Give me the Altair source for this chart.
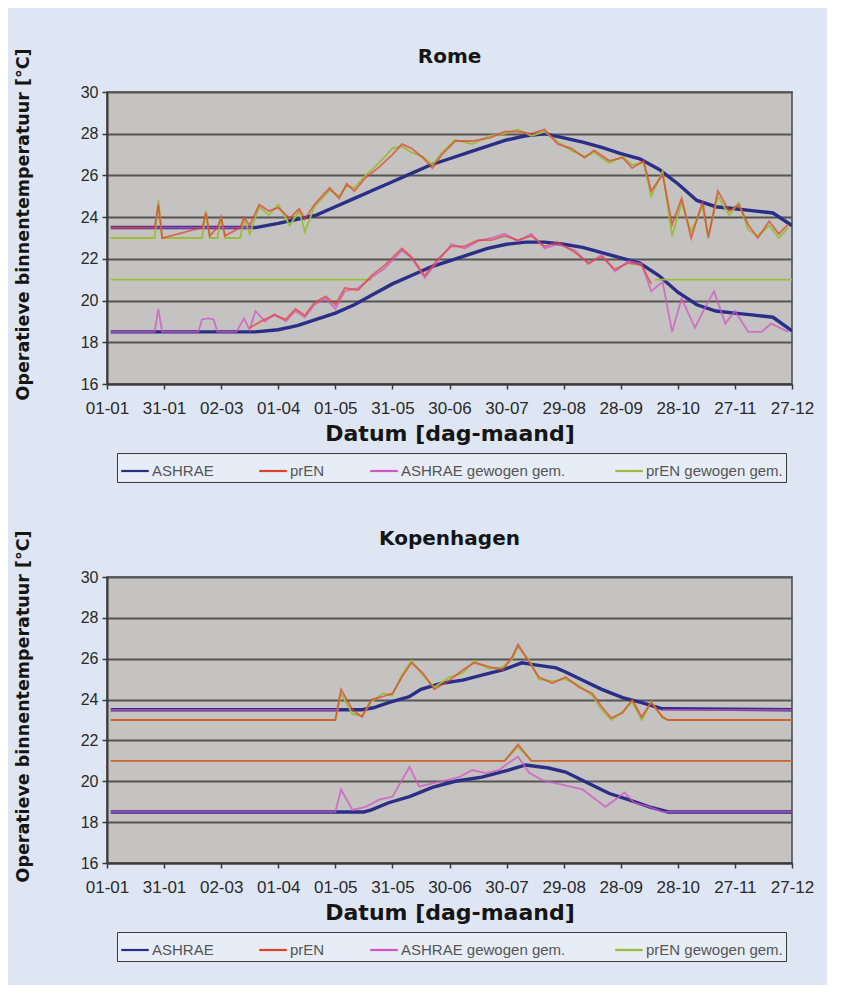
import json
import altair as alt
import pandas as pd

# ---------------- axis / legend text ----------------
x_tick_days = [0, 30, 60, 90, 120, 150, 180, 210, 240, 270, 300, 330, 360]
x_tick_labels = ["01-01", "31-01", "02-03", "01-04", "01-05", "31-05", "30-06",
                 "30-07", "29-08", "28-09", "28-10", "27-11", "27-12"]
y_ticks = [16, 18, 20, 22, 24, 26, 28, 30]
series_names = ["ASHRAE", "prEN", "ASHRAE  gewogen gem.", "prEN gewogen gem."]
series_colors = ["#2b2e86", "#e3402b", "#d453c6", "#9cbd3c"]

# ---------------- Rome ----------------
rome_ashrae_days = [2, 78, 90, 100, 110, 120, 130, 140, 150, 160, 170, 180, 190, 200, 210,
                    220, 230, 240, 250, 260, 270, 280, 290, 300, 310, 320, 330, 340, 350, 360]
rome_ashrae_upper = [23.5, 23.5, 23.7, 23.9, 24.1, 24.5, 24.9, 25.3, 25.7, 26.1, 26.5, 26.8, 27.1, 27.4, 27.7,
                     27.9, 28.0, 27.8, 27.6, 27.35, 27.05, 26.8, 26.3, 25.6, 24.8, 24.5, 24.4, 24.3, 24.2, 23.6]
rome_ashrae_lower = [18.5, 18.5, 18.6, 18.8, 19.1, 19.4, 19.8, 20.3, 20.8, 21.2, 21.6, 21.9, 22.2, 22.5, 22.7,
                     22.8, 22.8, 22.7, 22.55, 22.3, 22.05, 21.8, 21.2, 20.4, 19.8, 19.5, 19.4, 19.3, 19.2, 18.55]

rome_upper_days = [2, 25, 27, 29, 50, 52, 54, 58, 60, 62, 70, 72, 75, 80, 85, 90, 96, 101, 104, 109,
                   117, 122, 126, 130, 136, 143, 150, 155, 160, 166, 171, 176, 183, 192, 201, 209,
                   216, 223, 230, 237, 244, 251, 256, 264, 271, 276, 282, 286, 292, 297, 302, 307,
                   313, 316, 321, 327, 332, 337, 342, 348, 353, 358]
rome_pren_upper = [23.5, 23.5, 24.6, 23.0, 23.5, 24.2, 23.1, 23.5, 24.0, 23.1, 23.5, 24.0, 23.6, 24.6, 24.3,
                   24.45, 23.95, 24.4, 23.9, 24.6, 25.4, 24.9, 25.6, 25.25, 25.9, 26.4, 27.0, 27.5, 27.3,
                   26.85, 26.35, 27.0, 27.65, 27.65, 27.8, 28.1, 28.1, 28.0, 28.2, 27.5, 27.3, 26.85, 27.2,
                   26.7, 26.85, 26.35, 26.7, 25.25, 26.05, 23.65, 24.9, 23.0, 24.75, 23.0, 25.25, 24.3,
                   24.6, 23.65, 23.0, 23.8, 23.2, 23.65]
rome_pren_w_upper = [23.0, 23.0, 24.8, 23.0, 23.0, 24.3, 23.0, 23.0, 24.0, 23.0, 23.0, 23.9, 23.2, 24.5, 24.1,
                     24.6, 23.6, 24.3, 23.3, 24.5, 25.3, 25.0, 25.5, 25.4, 26.0, 26.6, 27.3, 27.4, 27.1,
                     26.9, 26.5, 27.1, 27.7, 27.5, 27.9, 28.0, 28.2, 27.9, 28.1, 27.6, 27.2, 26.9, 27.1,
                     26.6, 26.9, 26.5, 26.6, 25.0, 26.2, 23.1, 24.7, 23.3, 24.5, 23.1, 25.0, 24.1,
                     24.7, 23.4, 23.1, 23.6, 23.0, 23.5]
rome_ashrae_w_upper_days = [2, 76]
rome_ashrae_w_upper = [23.5, 23.5]

rome_lower_days = [2, 25, 27, 29, 48, 50, 53, 56, 58, 68, 72, 75, 78, 83, 88, 94, 99, 104, 109, 115,
                   120, 125, 132, 139, 146, 155, 160, 167, 174, 181, 188, 195, 202, 209, 216, 223,
                   230, 237, 246, 253, 260, 267, 274, 281, 286, 292, 297, 302, 309, 314, 319, 325,
                   330, 337, 344, 349, 358]
rome_ashrae_w_lower = [18.5, 18.5, 19.6, 18.5, 18.5, 19.1, 19.15, 19.1, 18.5, 18.5, 19.15, 18.6, 19.5, 19.0,
                       19.35, 19.0, 19.5, 19.2, 19.8, 20.1, 19.6, 20.45, 20.6, 21.1, 21.55, 22.4, 22.05,
                       21.1, 21.9, 22.7, 22.5, 22.85, 23.0, 23.2, 22.85, 23.2, 22.5, 22.7, 22.4, 21.75,
                       22.2, 21.4, 21.9, 21.75, 20.45, 20.9, 18.5, 20.1, 18.7, 19.6, 20.45, 18.9, 19.5,
                       18.5, 18.5, 18.9, 18.5]
rome_pren_lower_days = [75, 83, 88, 94, 99, 104, 109, 115, 120, 125, 132, 139, 146, 155, 160, 167, 174,
                        181, 188, 195, 202, 209, 216, 223, 230, 237, 246, 253, 260, 267, 274, 281, 286]
rome_pren_lower = [18.7, 19.1, 19.3, 19.1, 19.6, 19.3, 19.9, 20.2, 19.8, 20.6, 20.5, 21.2, 21.7, 22.5, 22.1,
                   21.2, 22.0, 22.6, 22.6, 22.9, 22.9, 23.1, 22.9, 23.1, 22.6, 22.8, 22.3, 21.8, 22.1,
                   21.5, 21.8, 21.7, 20.8]
rome_pren_w_lower_days = [2, 139, 140, 288, 360]
rome_pren_w_lower = [21.0, 21.0, None, 21.0, 21.0]

# ---------------- Kopenhagen ----------------
kop_ashrae_upper_days = [2, 134, 140, 148, 159, 165, 176, 187, 197, 208, 218, 225, 236, 241, 250,
                         260, 271, 281, 292, 360]
kop_ashrae_upper = [23.5, 23.5, 23.6, 23.85, 24.15, 24.5, 24.8, 24.95, 25.2, 25.45, 25.8, 25.7, 25.55,
                    25.35, 24.95, 24.5, 24.1, 23.85, 23.55, 23.5]
kop_ashrae_lower_days = [2, 135, 139, 148, 159, 171, 183, 197, 211, 220, 232, 241, 253, 264, 274,
                         285, 295, 360]
kop_ashrae_lower = [18.5, 18.5, 18.6, 18.95, 19.25, 19.7, 20.0, 20.2, 20.55, 20.8, 20.65, 20.45, 19.9,
                    19.4, 19.1, 18.75, 18.5, 18.5]

kop_upper_days = [2, 120, 123, 129, 134, 139, 145, 150, 155, 160, 166, 172, 180, 187, 193, 201, 208,
                  213, 216, 222, 227, 234, 241, 248, 255, 260, 265, 271, 276, 281, 286, 292, 295, 360]
kop_pren_upper = [23.0, 23.0, 24.5, 23.5, 23.15, 24.0, 24.15, 24.3, 25.1, 25.8, 25.3, 24.5, 24.95, 25.45,
                  25.8, 25.6, 25.45, 26.1, 26.7, 25.8, 25.1, 24.8, 25.1, 24.6, 24.3, 23.65, 23.1, 23.35,
                  24.0, 23.15, 23.85, 23.15, 23.0, 23.0]
kop_pren_w_upper = [23.0, 23.0, 24.3, 23.3, 23.2, 23.9, 24.3, 24.2, 25.2, 25.9, 25.2, 24.6, 25.1, 25.3,
                    25.9, 25.5, 25.6, 26.0, 26.6, 25.9, 25.0, 24.9, 25.0, 24.7, 24.2, 23.5, 23.0, 23.4,
                    23.9, 23.0, 23.9, 23.1, 23.0, 23.0]
kop_ashrae_w_upper_days = [2, 122, 123, 292, 360]
kop_ashrae_w_upper = [23.5, 23.5, None, 23.5, 23.5]

kop_lower_days = [2, 120, 123, 129, 136, 143, 150, 159, 164, 171, 178, 185, 192, 199, 206, 211, 216,
                  222, 229, 236, 243, 250, 257, 262, 267, 272, 277, 285, 292, 360]
kop_ashrae_w_lower = [18.5, 18.5, 19.6, 18.6, 18.75, 19.1, 19.25, 20.7, 19.75, 19.9, 20.05, 20.2, 20.55,
                      20.4, 20.55, 20.9, 21.2, 20.4, 20.05, 19.9, 19.75, 19.6, 19.1, 18.75, 19.1, 19.45,
                      18.95, 18.75, 18.5, 18.5]
kop_pren_lower_days = [2, 209, 216, 223, 360]
kop_pren_lower = [21.0, 21.0, 21.8, 21.0, 21.0]
kop_pren_w_lower = [21.0, 21.0, 21.7, 21.0, 21.0]

# ---------------- styling ----------------
BG = "#dde6f2"
TITLE_FONT = "DejaVu Sans"
LABEL_FONT = "Liberation Sans"
draw_order = ["ASHRAE", "prEN gewogen gem.", "ASHRAE  gewogen gem.", "prEN"]
line_style = {  # name: (strokeWidth, opacity)
    "ASHRAE": (3.4, 1.0),
    "prEN gewogen gem.": (1.8, 1.0),
    "ASHRAE  gewogen gem.": (1.8, 0.75),
    "prEN": (1.8, 0.7),
}
label_expr = json.dumps(x_tick_labels) + "[round(datum.value / 30)]"


def make_panel(title, parts, plot_w, plot_h):
    rows = []
    for name, part, days, vals in parts:
        seg = 0
        for d, v in zip(days, vals):
            if v is None:
                seg += 1
                continue
            rows.append({"day": d, "temp": v, "series": name, "line": f"{part}-{seg}"})
    df = pd.DataFrame(rows)

    x = alt.X("day:Q",
              scale=alt.Scale(domain=[0, 360], nice=False, zero=False),
              axis=alt.Axis(values=x_tick_days, labelExpr=label_expr, grid=False, labelFlush=False,
                            labelOverlap=False,
                            title="Datum [dag-maand]", titleFont=TITLE_FONT, titleFontSize=22,
                            titleFontWeight="bold", titleColor="#151515", titlePadding=7,
                            labelFont=LABEL_FONT, labelFontSize=17, labelColor="#2a2a2a",
                            labelPadding=11, tickSize=5, tickColor="#3a3a3a", tickWidth=1.5,
                            domainColor="#3a3a3a", domainWidth=2))
    y = alt.Y("temp:Q",
              scale=alt.Scale(domain=[16, 30], nice=False, zero=False),
              axis=alt.Axis(values=y_ticks, grid=True, gridColor="#555555", gridWidth=2,
                            title="Operatieve binnentemperatuur [°C]", titleFont=TITLE_FONT,
                            titleFontSize=17.5, titleFontWeight="bold", titleColor="#151515",
                            titlePadding=48, titleY=plot_h / 2 - 14,
                            labelFont=LABEL_FONT, labelFontSize=16,
                            labelColor="#2a2a2a", labelPadding=4, tickSize=5, tickColor="#3a3a3a",
                            tickWidth=1.5, domainColor="#3a3a3a", domainWidth=2))
    color = alt.Color("series:N",
                      scale=alt.Scale(domain=series_names, range=series_colors),
                      legend=alt.Legend(orient="none", legendX=10, legendY=plot_h + 69,
                                        direction="horizontal", title=None,
                                        symbolType="stroke", symbolSize=760,
                                        symbolStrokeWidth=2.2, labelFont=LABEL_FONT,
                                        labelFontSize=15, labelColor="#555555", labelOffset=2,
                                        labelLimit=400, columnPadding=40, padding=3,
                                        strokeColor="#3a3a3a", fillColor="#e6edf6"))
    layers = []
    for name in draw_order:
        w, op = line_style[name]
        layers.append(
            alt.Chart(df)
            .transform_filter(alt.datum.series == name)
            .mark_line(strokeWidth=w, opacity=op, clip=True)
            .encode(x=x, y=y, color=color, detail="line:N")
        )
    return alt.layer(*layers).properties(
        width=plot_w, height=plot_h,
        title=alt.TitleParams(title, font=TITLE_FONT, fontSize=20, fontWeight="bold",
                              color="#151515", anchor="middle", offset=-19),
    )


rome = make_panel("Rome", [
    ("ASHRAE", "up", rome_ashrae_days, rome_ashrae_upper),
    ("ASHRAE", "low", rome_ashrae_days, rome_ashrae_lower),
    ("prEN", "up", rome_upper_days, rome_pren_upper),
    ("prEN", "low", rome_pren_lower_days, rome_pren_lower),
    ("ASHRAE  gewogen gem.", "up", rome_ashrae_w_upper_days, rome_ashrae_w_upper),
    ("ASHRAE  gewogen gem.", "low", rome_lower_days, rome_ashrae_w_lower),
    ("prEN gewogen gem.", "up", rome_upper_days, rome_pren_w_upper),
    ("prEN gewogen gem.", "low", rome_pren_w_lower_days, rome_pren_w_lower),
], 685, 292)

kop = make_panel("Kopenhagen", [
    ("ASHRAE", "up", kop_ashrae_upper_days, kop_ashrae_upper),
    ("ASHRAE", "low", kop_ashrae_lower_days, kop_ashrae_lower),
    ("prEN", "up", kop_upper_days, kop_pren_upper),
    ("prEN", "low", kop_pren_lower_days, kop_pren_lower),
    ("ASHRAE  gewogen gem.", "up", kop_ashrae_w_upper_days, kop_ashrae_w_upper),
    ("ASHRAE  gewogen gem.", "low", kop_lower_days, kop_ashrae_w_lower),
    ("prEN gewogen gem.", "up", kop_upper_days, kop_pren_w_upper),
    ("prEN gewogen gem.", "low", kop_pren_lower_days, kop_pren_w_lower),
], 685, 286)

chart = (
    alt.vconcat(rome, kop, spacing=44)
    .resolve_scale(color="independent")
    .configure(background=BG, padding={"left": 5, "top": 38, "right": 12, "bottom": 22})
    .configure_view(fill="#c4c3c1", stroke="#4a4a4a", strokeWidth=1.5)
)

chart.save("out.html", embed_options={"renderer": "svg", "actions": False})
